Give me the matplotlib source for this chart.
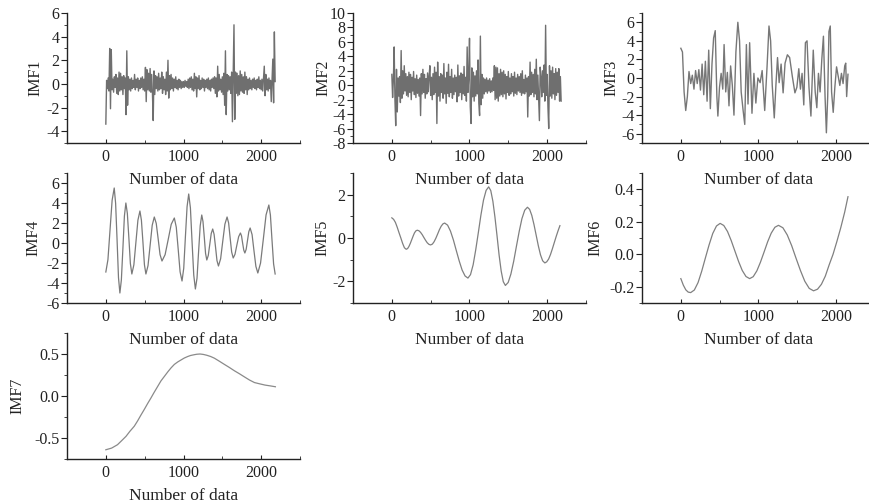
import numpy as np
import matplotlib
matplotlib.use("Agg")
import matplotlib.pyplot as plt
from matplotlib.ticker import MultipleLocator, FormatStrFormatter

plt.rcParams["font.family"] = ["Liberation Serif", "DejaVu Serif"]
plt.rcParams["axes.unicode_minus"] = False

STEP = 10  # spacing (in samples) of the tabulated high-frequency modes

# IMF1: highest-frequency mode, sampled every STEP points
imf1 = [
    -3.4, 0.3, -0.4, 0.5, -0.6, 3.0, -2.1, 2.9, -0.5, 0.4, -0.7, 0.6, -0.3, 0.8, -0.8, 0.5, -0.9, 1.0, -0.6, 0.9,
    -0.5, 0.6, -0.9, 0.7, -0.4, 0.5, -2.6, 2.8, -1.8, 0.6, -0.5, 0.4, -0.6, 0.5, -0.4, 0.3, -0.3, 0.8, -0.5, 0.4,
    -0.3, 0.5, -0.6, 0.3, -0.4, 0.5, -0.3, 0.6, -0.5, 0.4, -0.6, 1.4, -1.5, 1.2, -0.5, 0.9, -0.6, 1.3, -0.7, 0.8,
    -0.8, -3.1, 1.1, -0.9, 0.7, -0.4, 0.6, -0.6, 0.9, -0.5, 0.5, -0.4, 1.0, -0.8, 0.6, -0.5, 0.4, -0.9, 1.0, -0.6,
    2.0, -1.2, 0.7, -0.5, 0.8, -0.4, 0.5, -0.6, 0.4, -0.3, 0.6, -0.4, 0.3, -0.5, 0.4, -0.3, 0.3, -0.4, 0.2, -0.3,
    0.2, -0.3, 0.3, -0.2, 0.2, -0.3, 0.4, -0.4, 0.5, -0.3, 0.6, -0.5, 0.4, -0.6, 0.9, -0.4, 0.6, -1.1, 0.5, -0.4,
    0.7, -0.5, 0.3, -0.4, 0.5, -0.3, 0.4, -0.6, 0.3, -0.3, 0.4, -0.4, 0.5, -0.5, 0.3, -0.6, 0.4, -0.3, 0.5, -0.4,
    0.6, -0.8, 0.5, -1.1, 1.5, -0.6, 0.8, -0.5, 0.4, -0.7, 0.6, -0.9, 0.9, -1.8, 2.8, -2.6, 0.8, -0.6, 0.7, -0.5,
    0.6, -0.8, 1.0, -3.2, 1.1, 5.0, -3.0, 1.0, -0.8, 0.9, -1.0, 0.7, -0.9, 1.1, -0.6, 0.8, -0.7, 0.6, -0.8, 1.0,
    -0.5, 0.6, -0.9, 0.4, -0.5, 0.5, -0.4, 0.3, -0.5, 0.4, -0.3, 0.5, -0.4, 0.3, -0.5, 0.4, -0.3, 0.6, -0.4, 0.3,
    -0.5, 0.4, -0.6, 0.5, 1.5, -1.0, 0.8, -0.5, 0.4, -0.6, 0.5, -0.4, 0.3, -1.5, 0.3, 2.1, -1.6, 4.4, 0.2,
]

# IMF2, sampled every STEP points
imf2 = [
    1.5, -1.7, 0.8, 5.3, -2.0, -5.6, 2.2, -3.7, 1.0, -1.5, 1.2, -2.4, 4.8, -1.8, 2.0, -1.2, 2.7, -0.8, 1.6, -1.4,
    1.2, -1.6, 1.8, -1.0, 1.5, -2.0, 1.1, -0.8, 1.9, -1.3, 0.9, -1.7, 1.4, -1.1, 0.8, -1.5, 1.0, -4.2, 1.6, -1.2,
    2.2, -1.0, 1.5, -1.8, 0.9, -1.2, 1.7, -0.9, 1.3, 2.7, -1.4, 1.1, -2.0, 1.6, -1.3, 2.5, -1.0, 1.8, -5.3, 3.2,
    -1.5, 1.2, -2.2, 1.6, -1.0, 1.4, -1.8, 3.0, -1.2, 1.0, -2.5, 1.8, -1.1, 2.9, -1.6, 1.2, -1.0, 2.2, -1.8, 1.0,
    -1.3, 1.4, -0.9, 1.1, -2.3, 2.8, -1.5, 1.3, -1.0, 1.7, -2.0, 1.5, -1.2, 2.6, -1.4, 1.1, -2.2, 5.3, -1.0, 1.2,
    6.5, -3.0, -5.3, 2.4, -1.6, 1.8, -2.2, 1.3, -1.5, 2.0, -1.2, 3.5, -2.5, -4.2, 6.8, -2.7, 1.5, -1.8, 1.0, -1.2,
    0.8, -0.9, 1.0, -1.1, 0.7, -0.8, 0.9, -1.0, 0.6, -0.9, 1.0, -0.7, 2.7, -2.0, 2.5, -1.8, 2.4, -2.2, 1.6, -1.5,
    2.2, -1.3, 1.8, -1.6, 2.0, -1.2, 1.5, -1.9, 1.2, -1.0, 1.9, -1.4, 1.0, -1.2, 1.6, -0.9, 1.2, -1.5, 1.8, -1.1,
    1.0, -1.3, 1.5, -0.8, 1.2, -1.0, 1.6, -1.4, 2.0, -1.1, 0.8, -1.2, 1.4, -0.9, 1.0, -4.4, 1.2, -1.5, 3.2, -1.3,
    1.8, -1.0, 1.5, -1.6, 2.2, -1.2, 3.6, -2.0, 1.4, -1.8, -4.9, 2.5, 1.2, -1.6, 2.0, -1.0, 2.8, -2.2, 8.3, -1.4,
    1.5, -3.0, -6.0, 2.7, -1.5, 2.0, -1.8, 2.5, -1.2, 1.6, -2.0, 2.3, -1.4, 1.8, -1.0, 2.3, -2.2, 1.2, -2.2,
]

# IMF3: sample index / value pairs
imf3_idx = [0, 21, 42, 63, 84, 105, 127, 148, 169, 190, 211, 232, 253, 274, 295, 316, 338, 359, 380, 401,
            422, 443, 464, 477, 498, 519, 540, 557, 578, 599, 620, 641, 663, 684, 709, 734, 756, 777, 802, 823,
            844, 865, 886, 916, 941, 966, 992, 1021, 1047, 1080, 1110, 1135, 1156, 1177, 1203, 1224, 1245, 1266,
            1291, 1317, 1342, 1372, 1401, 1435, 1469, 1494, 1519, 1540, 1561, 1583, 1604, 1625, 1650, 1675, 1705,
            1730, 1751, 1772, 1793, 1815, 1836, 1857, 1874, 1891, 1907, 1924, 1941, 1962, 1983, 2005, 2026, 2047,
            2068, 2089, 2110, 2123, 2135, 2152]
imf3_val = [3.2, 2.8, -1.5, -3.5, -2.0, 0.7, -0.6, 0.3, -1.2, 0.8, -0.6, 0.9, -1.3, 1.5, -1.8, 1.8, -2.5, 3.0, -3.3, 1.5,
            4.3, 5.1, -2.0, -4.1, -1.0, 0.5, -1.2, 3.6, -1.5, 0.6, -3.0, 1.3, -0.8, -4.0, 2.8, 6.0, 4.0, -1.5, -3.5, -5.0,
            3.6, -2.8, 3.8, -3.8, 0.5, -2.7, 0.0, -0.5, 0.8, -3.5, 1.2, 5.6, 4.0, -0.8, -4.3, -0.8, 2.2, -0.5,
            1.5, -1.6, 1.6, 2.5, 2.2, 0.2, -1.6, -1.0, 1.0, -1.2, 0.5, -2.9, 3.8, 4.0, -1.0, -4.1, 3.0,
            -1.5, -3.2, 0.5, -1.5, 2.0, 4.5, -2.0, -5.9, -2.0, 5.0, 5.6, -1.5, -3.7, -1.0, 1.2, 0.2, -0.8,
            0.5, -0.6, 1.3, 1.6, -2.0, 0.4]

# IMF4
imf4_idx = [0, 27, 54, 81, 108, 126, 145, 163, 181, 200, 220, 239, 258, 277, 297, 316, 335, 361, 387, 413,
            439, 458, 478, 497, 516, 543, 570, 597, 624, 649, 674, 698, 723, 763, 803, 842, 882, 907, 932, 956,
            981, 1003, 1024, 1046, 1067, 1089, 1110, 1132, 1153, 1174, 1194, 1215, 1235, 1251, 1268, 1284, 1300,
            1319, 1338, 1357, 1376, 1394, 1413, 1431, 1450, 1478, 1505, 1533, 1561, 1581, 1600, 1620, 1640, 1663,
            1686, 1710, 1733, 1747, 1761, 1776, 1790, 1807, 1824, 1841, 1858, 1883, 1907, 1932, 1957, 1992, 2028,
            2063, 2099, 2119, 2139, 2160, 2180]
imf4_val = [-2.9, -1.67, 1.3, 4.27, 5.5, 3.97, 0.25, -3.47, -5.0, -3.69, -0.5, 2.69, 4.0, 2.96, 0.45, -2.06, -3.1,
            -2.18, 0.05, 2.28, 3.2, 2.28, 0.05, -2.18, -3.1, -2.27, -0.25, 1.77, 2.6, 1.96, 0.4, -1.16, -1.8,
            -1.17, 0.35, 1.87, 2.5, 1.58, -0.65, -2.88, -3.8, -2.53, 0.55, 3.63, 4.9, 3.51, 0.15, -3.21, -4.6,
            -3.52, -0.9, 1.72, 2.8, 2.14, 0.55, -1.04, -1.7, -1.25, -0.15, 0.95, 1.4, 0.86, -0.45, -1.76, -2.3,
            -1.58, 0.15, 1.88, 2.6, 2.0, 0.55, -0.9, -1.5, -1.13, -0.25, 0.63, 1.0, 0.71, 0.0, -0.71, -1.0,
            -0.63, 0.25, 1.13, 1.5, 0.84, -0.75, -2.34, -3.0, -2.01, 0.4, 2.81, 3.8, 2.79, 0.35, -2.09, -3.1]

# IMF5
imf5_idx = [0, 23, 46, 69, 92, 116, 139, 162, 185,
            203, 220, 238, 256, 274, 291, 309, 327,
            349, 370, 392, 413, 435, 456, 478, 499,
            522, 544, 567, 590, 612, 635, 658, 680,
            718, 755, 793, 830, 868, 905, 943, 980,
            1013, 1047, 1080, 1114, 1147, 1180, 1214, 1247,
            1274, 1301, 1328, 1355, 1381, 1408, 1435, 1462,
            1498, 1533, 1569, 1604, 1640, 1675, 1711, 1746,
            1774, 1802, 1830, 1858, 1886, 1914, 1942, 1970,
            1994, 2019, 2043, 2067, 2091, 2116, 2140, 2164]
imf5_val = [0.93, 0.86, 0.72, 0.50, 0.25, 0.0, -0.25, -0.45, -0.52,
            -0.487, -0.392, -0.248, -0.08, 0.088, 0.232, 0.327, 0.36,
            0.334, 0.261, 0.150, 0.02, -0.110, -0.221, -0.294, -0.32,
            -0.282, -0.173, -0.008, 0.185, 0.378, 0.543, 0.652, 0.69,
            0.593, 0.319, -0.095, -0.58, -1.065, -1.479, -1.753, -1.85,
            -1.69, -1.235, -0.549, 0.255, 1.059, 1.745, 2.20, 2.36,
            2.187, 1.696, 0.954, 0.085, -0.784, -1.526, -2.017, -2.19,
            -2.053, -1.663, -1.075, -0.385, 0.305, 0.893, 1.283, 1.42,
            1.322, 1.045, 0.626, 0.135, -0.356, -0.775, -1.052, -1.15,
            -1.10, -0.97, -0.76, -0.50, -0.22, 0.07, 0.33, 0.57]

# IMF6
imf6_idx = [0, 32, 64, 95, 127,
            174, 222, 269, 316, 364, 411, 459, 506,
            553, 601, 648, 696, 744, 791, 839, 886,
            932, 979, 1025, 1072, 1118, 1164, 1211, 1257,
            1314, 1370, 1427, 1483, 1540, 1596, 1653, 1709,
            1760, 1810, 1860, 1910, 1960, 2010, 2060, 2110, 2152]
imf6_val = [-0.15, -0.19, -0.219, -0.233, -0.236,
            -0.220, -0.174, -0.104, -0.023, 0.058, 0.128, 0.174, 0.19,
            0.177, 0.140, 0.085, 0.02, -0.045, -0.100, -0.137, -0.15,
            -0.138, -0.102, -0.049, 0.014, 0.077, 0.130, 0.166, 0.178,
            0.163, 0.119, 0.053, -0.024, -0.100, -0.166, -0.210, -0.225,
            -0.215, -0.185, -0.135, -0.065, 0.0, 0.08, 0.165, 0.26, 0.354]

# IMF7: lowest-frequency mode
imf7_idx = [0, 75, 150, 200, 260, 310, 366, 410, 450, 495, 538, 580, 620, 665, 710, 755, 800, 840, 882, 925,
            970, 1010, 1054, 1090, 1130, 1170, 1213, 1255, 1300, 1350, 1398, 1460, 1520, 1590, 1656, 1720,
            1780, 1850, 1914, 1980, 2050, 2120, 2183]
imf7_val = [-0.64, -0.62, -0.58, -0.535, -0.48, -0.42, -0.36, -0.295, -0.23, -0.16, -0.09, -0.025, 0.04, 0.11,
            0.18, 0.235, 0.29, 0.335, 0.376, 0.405, 0.43, 0.452, 0.47, 0.482, 0.49, 0.497, 0.50, 0.495, 0.485,
            0.47, 0.45, 0.415, 0.38, 0.34, 0.30, 0.265, 0.23, 0.19, 0.16, 0.145, 0.13, 0.12, 0.11]

series = [
    ("IMF1", np.arange(len(imf1)) * STEP, imf1, (-5, 6), 2, 1, "%d", "#6f6f6f", 1.0),
    ("IMF2", np.arange(len(imf2)) * STEP, imf2, (-8, 10), 2, 1, "%d", "#6f6f6f", 1.0),
    ("IMF3", imf3_idx, imf3_val, (-7, 7), 2, 1, "%d", "#777777", 1.0),
    ("IMF4", imf4_idx, imf4_val, (-6, 7), 2, 1, "%d", "#7a7a7a", 0.9),
    ("IMF5", imf5_idx, imf5_val, (-3, 3), 2, 1, "%d", "#808080", 0.9),
    ("IMF6", imf6_idx, imf6_val, (-0.3, 0.5), 0.2, 0.1, "%.1f", "#808080", 0.9),
    ("IMF7", imf7_idx, imf7_val, (-0.75, 0.75), 0.5, 0.25, "%.1f", "#8a8a8a", 0.9),
]

W, H = 870, 504
fig = plt.figure(figsize=(W / 100, H / 100), dpi=100)

col_left = [67, 353, 642]
row_top = [13, 173, 333]
row_bottom = [143, 303, 459]
ax_w = 233
# horizontal distance (px) from the left spine to the y label anchor
ylabel_offset = [-24, -22, -23, -26, -23, -39, -42]

for i, (name, xs, ys, ylim, major, minor, fmt, color, lw) in enumerate(series):
    r, c = divmod(i, 3)
    left = col_left[c] / W
    bottom = 1 - row_bottom[r] / H
    height = (row_bottom[r] - row_top[r]) / H
    ax = fig.add_axes([left, bottom, ax_w / W, height])
    ax.patch.set_visible(False)
    ax.plot(xs, ys, color=color, lw=lw)
    ax.set_xlim(-500, 2500)
    ax.set_ylim(*ylim)
    ax.xaxis.set_major_locator(MultipleLocator(1000))
    ax.xaxis.set_minor_locator(MultipleLocator(500))
    ax.yaxis.set_major_locator(MultipleLocator(major))
    ax.yaxis.set_minor_locator(MultipleLocator(minor))
    ax.yaxis.set_major_formatter(FormatStrFormatter(fmt))
    for side in ("top", "right"):
        ax.spines[side].set_visible(False)
    for side in ("left", "bottom"):
        ax.spines[side].set_color("#222222")
        ax.spines[side].set_linewidth(1.0)
    ax.tick_params(axis="y", which="major", direction="out", length=4, width=0.8,
                   labelsize=11.5, pad=1.5, colors="#222222")
    ax.tick_params(axis="y", which="minor", direction="out", length=2, width=0.6, colors="#222222")
    ax.tick_params(axis="x", which="major", direction="in", length=3, width=0.8,
                   labelsize=11.5, pad=4, colors="#222222")
    ax.tick_params(axis="x", which="minor", direction="in", length=2, width=0.6, colors="#222222")
    ax.set_ylabel(name, fontsize=11.5, color="#222222")
    ax.yaxis.set_label_coords(ylabel_offset[i] / ax_w, 0.5)
    ax.set_xlabel("Number of data", fontsize=12.5, labelpad=5, color="#222222")

fig.savefig("out.png", dpi=100)
